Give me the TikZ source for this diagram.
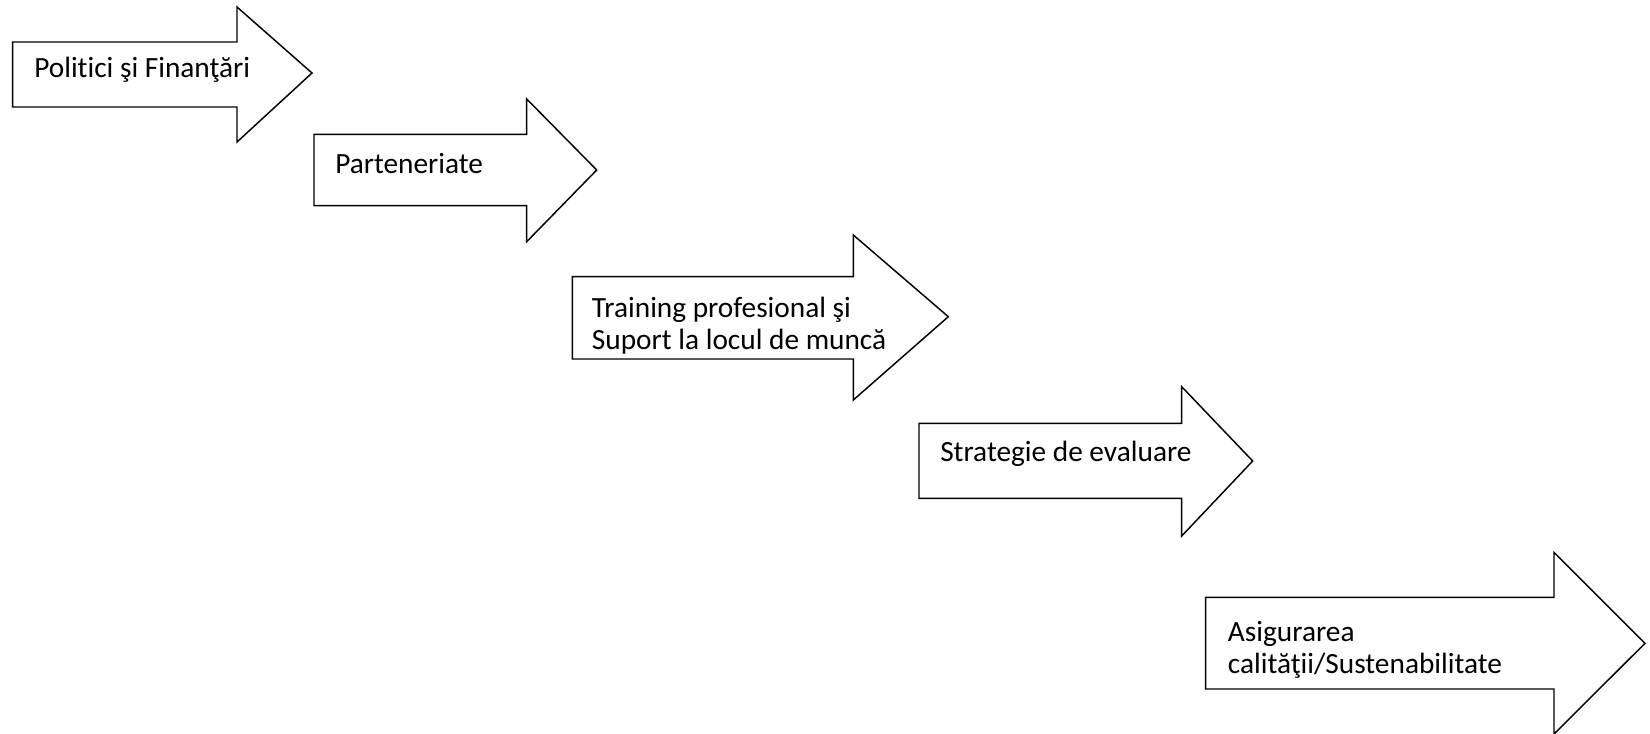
\documentclass[tikz,border=0pt]{standalone}
\usepackage{fontspec}
\setmainfont{Carlito}[Ligatures={NoCommon}]
\begin{document}
\begin{tikzpicture}[x=0.75pt, y=-0.75pt,
		arrowshape/.style={draw, line width=1.1pt, line join=miter, fill=white},
		steptext/.style={anchor=base west, inner sep=0pt, align=left,
			font=\fontsize{22}{24}\selectfont}]
		
		\useasboundingbox (0,0) rectangle (1650,733);
		
		% Arrow 1
		\draw [arrowshape] (12.7,42) -- (237,42) -- (237,7) -- (312,73)
		-- (237,142) -- (237,107) -- (12.7,107) -- cycle;
		
		\node [steptext] (pol) at (34,77.7) {Politici şi Finanţări};
		
		% Arrow 2
		\draw [arrowshape] (314,134.3) -- (526.7,134.3) -- (526.7,99) -- (596.7,170)
		-- (526.7,241.7) -- (526.7,205.7) -- (314,205.7) -- cycle;
		
		\node [steptext] (part) at (335,173.3) {Parteneriate};
		
		% Arrow 3 (base anchor = last line)
		\draw [arrowshape] (572.3,276.7) -- (853.3,276.7) -- (853.3,235) -- (948.3,316.7)
		-- (853.3,400) -- (853.3,359) -- (572.3,359) -- cycle;
		
		\node [steptext] (train) at (591.7,349.3) {Training profesional şi\\Suport la locul de muncă};
		
		% Arrow 4
		\draw [arrowshape] (919,423.3) -- (1181.7,423.3) -- (1181.7,386.7) -- (1252.7,461)
		-- (1181.7,536) -- (1181.7,498.3) -- (919,498.3) -- cycle;
		
		\node [steptext] (eval) at (940,461) {Strategie de evaluare};
		
		% Arrow 5
		\draw [arrowshape] (1205.7,597.3) -- (1554,597.3) -- (1554,552.3) -- (1645,643.3)
		-- (1554,734) -- (1554,689) -- (1205.7,689) -- cycle;
		
		\node [steptext] (asig) at (1227.7,673.3) {Asigurarea\\calităţii/Sustenabilitate};
		
	\end{tikzpicture}
\end{document}
